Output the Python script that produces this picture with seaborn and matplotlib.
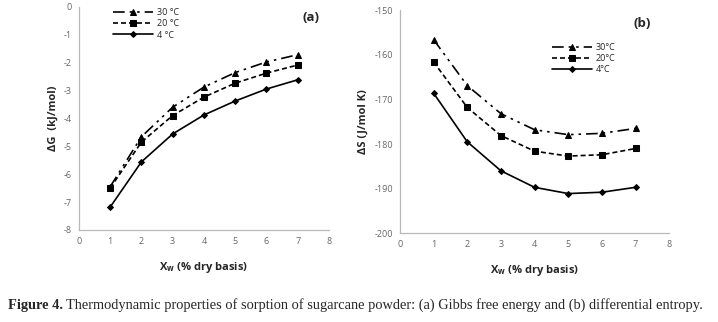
import pandas as pd
import matplotlib.pyplot as plt
import seaborn as sns

# moisture content (% dry basis)
xw = [1, 2, 3, 4, 5, 6, 7]
temps = ["30", "20", "4"]

# Gibbs free energy, kJ/mol
dg_30 = [-6.45, -4.66, -3.60, -2.88, -2.36, -1.98, -1.72]
dg_20 = [-6.50, -4.85, -3.90, -3.24, -2.74, -2.38, -2.09]
dg_4 = [-7.18, -5.56, -4.56, -3.88, -3.38, -2.95, -2.62]

# differential entropy, J/mol K
ds_30 = [-156.6, -166.9, -173.2, -176.8, -177.9, -177.6, -176.5]
ds_20 = [-161.6, -171.8, -178.1, -181.6, -182.7, -182.4, -181.0]
ds_4 = [-168.6, -179.5, -186.0, -189.7, -191.1, -190.8, -189.7]

rows = []
for t, g, s in zip(temps, [dg_30, dg_20, dg_4], [ds_30, ds_20, ds_4]):
    for x, gv, sv in zip(xw, g, s):
        rows.append({"xw": x, "T": t, "dG": gv, "dS": sv})
df = pd.DataFrame(rows)

sns.set_style("white")
plt.rcParams["font.family"] = ["Open Sans", "DejaVu Sans"]
plt.rcParams["mathtext.fontset"] = "custom"
plt.rcParams["mathtext.bf"] = "Open Sans:bold"
plt.rcParams["axes.unicode_minus"] = False

markers = {"30": "^", "20": "s", "4": "D"}
dashes = {"30": (7, 3, 1.5, 3, 1.5, 3), "20": (3, 1.8), "4": ""}
msize = {"30": 5, "20": 5, "4": 3}

fig = plt.figure(figsize=(7.18, 3.22), dpi=100)
ax1 = fig.add_axes([0.110, 0.286, 0.348, 0.693])
ax2 = fig.add_axes([0.557, 0.2755, 0.375, 0.693])


def draw(ax, ycol, sep):
    for t in temps:
        sub = df[df["T"] == t]
        sns.lineplot(data=sub, x="xw", y=ycol, ax=ax, color="black", lw=1.2,
                     marker=markers[t], markersize=msize[t], markeredgecolor="black",
                     dashes=dashes[t] if dashes[t] else (None, None),
                     label=t + sep + "°C")
    for sp in ["top", "right"]:
        ax.spines[sp].set_visible(False)
    for sp in ["left", "bottom"]:
        ax.spines[sp].set_color("#b8b8b8")
        ax.spines[sp].set_linewidth(0.9)
    ax.tick_params(direction="out", length=3, width=0.8, color="#b8b8b8",
                   labelsize=6.5, labelcolor="#666666", pad=2)
    ax.set_xlim(0, 8)
    ax.set_xticks(range(0, 9))
    ax.set_xlabel("X$_{\\mathbf{w}}$ (% dry basis)", fontsize=8, fontweight="bold", labelpad=10)


draw(ax1, "dG", " ")
ax1.set_ylim(-8, 0)
ax1.set_yticks(range(-8, 1))
ax1.set_ylabel("ΔG  (kJ/mol)", fontsize=8, fontweight="bold", labelpad=4)
ax1.text(0.93, 0.95, "(a)", transform=ax1.transAxes, fontsize=9.5, fontweight="bold", ha="center", va="center")
ax1.legend(loc="upper left", bbox_to_anchor=(0.12, 1.01), frameon=False, fontsize=6.5,
           handlelength=4.5, labelspacing=0.25, handletextpad=0.4, borderaxespad=0)

draw(ax2, "dS", "")
ax2.set_ylim(-200, -150)
ax2.set_yticks(range(-200, -149, 10))
ax2.set_ylabel("ΔS (J/mol K)", fontsize=8, fontweight="bold", labelpad=4)
ax2.text(0.90, 0.94, "(b)", transform=ax2.transAxes, fontsize=9.5, fontweight="bold", ha="center", va="center")
ax2.legend(loc="upper left", bbox_to_anchor=(0.55, 0.87), frameon=False, fontsize=6.5,
           handlelength=4.5, labelspacing=0.25, handletextpad=0.4, borderaxespad=0)

t1 = fig.text(0.011, 0.04, "Figure 4.", fontsize=10.4, fontweight="bold",
              family="Liberation Serif", va="baseline")
bb = t1.get_window_extent(renderer=fig.canvas.get_renderer())
fig.text(bb.x1 / fig.bbox.width + 0.004, 0.04,
         "Thermodynamic properties of sorption of sugarcane powder: (a) Gibbs free energy and (b) differential entropy.",
         fontsize=10.4, family="Liberation Serif", va="baseline")

fig.savefig("out.png", dpi=100)
plt.close(fig)
